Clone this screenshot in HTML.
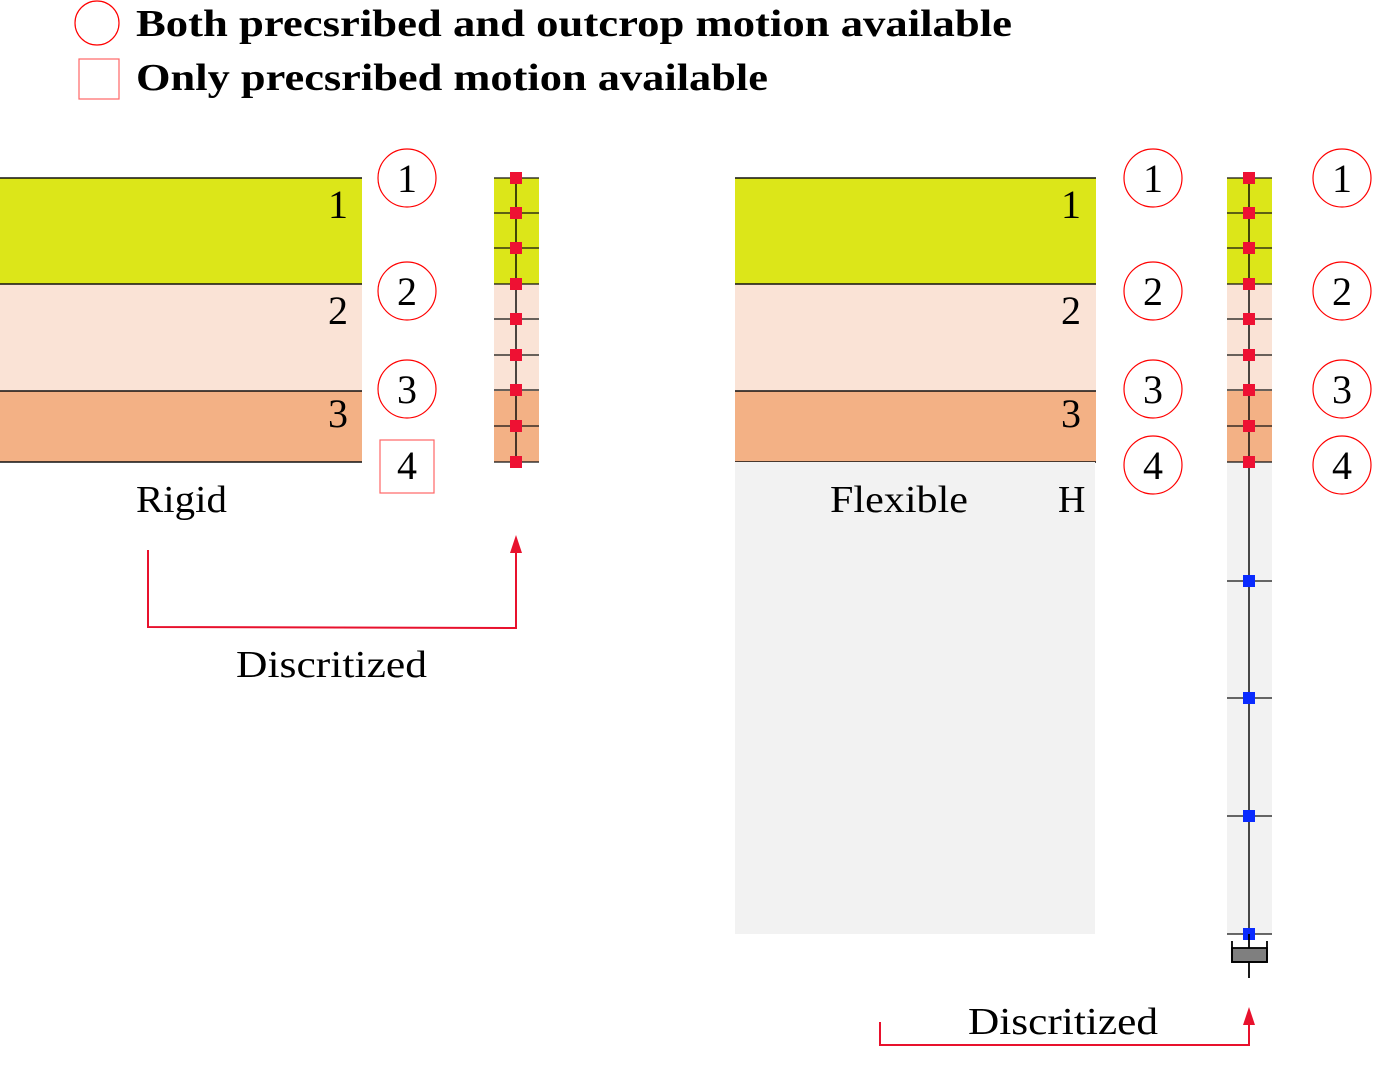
<!DOCTYPE html>
<html><head><meta charset="utf-8"><style>
html,body{margin:0;padding:0;background:#fff;}
svg{display:block;font-family:"Liberation Serif",serif;}
</style></head><body>
<svg id="fig" width="1373" height="1069" viewBox="0 0 1373 1069" xmlns="http://www.w3.org/2000/svg">
<g>
<circle cx="97" cy="23" r="22" fill="none" stroke="#f00" stroke-width="1.2"/>
<text x="136" y="36" font-size="38" font-weight="bold" textLength="876" lengthAdjust="spacingAndGlyphs">Both precsribed and outcrop motion available</text>
<rect x="79" y="59" width="40" height="40" fill="none" stroke="#f66" stroke-width="1.2"/>
<text x="136" y="90" font-size="38" font-weight="bold" textLength="632" lengthAdjust="spacingAndGlyphs">Only precsribed motion available</text>
</g>
<g id="left"></g>
<g id="right"></g>
<g id="lcol"></g>
<g id="rcol"></g>
<g>
<text x="136" y="512" font-size="38" textLength="91" lengthAdjust="spacingAndGlyphs">Rigid</text>
<text x="236" y="677" font-size="38" textLength="191" lengthAdjust="spacingAndGlyphs">Discritized</text>
<polyline points="148,550 148,627 516,628 516,550" fill="none" stroke="#e8112d" stroke-width="2"/>
<polygon points="510,553 522,553 516,535" fill="#e8112d"/>
</g>
<g>
<rect x="735" y="462" width="360" height="472" fill="#f2f2f2"/>
<text x="830" y="512" font-size="38" textLength="138" lengthAdjust="spacingAndGlyphs">Flexible</text>
<text x="1058" y="512" font-size="38">H</text>
<text x="968" y="1034" font-size="38" textLength="190" lengthAdjust="spacingAndGlyphs">Discritized</text>
<polyline points="880,1022 880,1045 1249,1045 1249,1022" fill="none" stroke="#e8112d" stroke-width="2"/>
<polygon points="1243,1025 1255,1025 1249,1007" fill="#e8112d"/>
</g>
</svg>
<script>
const layerTops=[178,284,391];
const layerBots=[284,391,462];
const layerColors=['#dce619','#fae3d6','#f3b185'];
const layerLabels=['1','2','3'];
const redNodes=[178,213,248,284,319,355,390,426,462];
const blueNodes=[581,698,816,934];
const NS='http://www.w3.org/2000/svg';
function mk(p,t,a){const e=document.createElementNS(NS,t);for(const k in a)e.setAttribute(k,a[k]);p.appendChild(e);return e;}
function layers(g,x0,x1,tx){
  layerTops.forEach((t,i)=>{
    const r=mk(g,'rect',{x:x0,y:t,width:x1-x0,height:layerBots[i]-t,fill:layerColors[i]});
    
    
    const l=mk(g,'line',{x1:x0,x2:x1,y1:t,y2:t,stroke:'#111','stroke-width':1.4});
    
    
    const tt=mk(g,'text',{x:tx,y:(i==2?t+36:t+40),'font-size':40});
    tt.textContent=layerLabels[i];
    
    
  });
  const l=mk(g,'line',{x1:x0,x2:x1,y1:462,y2:462,stroke:'#111','stroke-width':1.4});
  
  
}
const circY=[178,291,389,465];
function marks(g,cx,n,squareLast){
  circY.slice(0,n).forEach((cy,i)=>{
    if(squareLast&&i==3){
      const s=mk(g,'rect',{x:cx-27,y:440,width:54,height:53,fill:'none',stroke:'#f66','stroke-width':1.2});
      
      
    } else {
      const c=mk(g,'circle',{cx:cx,cy:cy,r:29,fill:'none',stroke:'#f00','stroke-width':1.2});
      
      
    }
    const t=mk(g,'text',{x:cx,y:cy+14,'font-size':40,'text-anchor':'middle'});
    t.textContent=String(i+1);
    
    
  });
}
function column(g,cx,flex){
  const x0=cx-22,w=45;
  layerTops.forEach((t,i)=>{
    const r=mk(g,'rect',{x:x0,y:t,width:w,height:layerBots[i]-t,fill:layerColors[i]});
    
    
  });
  if(flex){
    const r=mk(g,'rect',{x:x0,y:462,width:w,height:472,fill:'#f2f2f2'});
    
    
  }
  const yEnd=flex?934:462;
  const ln=mk(g,'line',{x1:cx,x2:cx,y1:178,y2:yEnd,stroke:'#000','stroke-width':1.4});
  
  
  const all=flex?redNodes.concat(blueNodes):redNodes;
  all.forEach((y,i)=>{
    const tk=mk(g,'line',{x1:x0,x2:x0+w,y1:y,y2:y,stroke:'#111','stroke-width':1.3});
    
    
    const blue=i>=redNodes.length;
    const n=mk(g,'rect',{x:cx-6,y:y-6,width:12,height:12,fill:blue?'#0a2bff':'#ee1133'});
    
    
  });
  if(flex){
    const d=mk(g,'g',{});
    
    
    mk(d,'rect',{x:1232,y:948,width:35,height:14,fill:'#7f7f7f',stroke:'#000','stroke-width':1.8});
    mk(d,'polyline',{points:'1232,941 1232,962 1267,962 1267,941',fill:'none',stroke:'#000','stroke-width':1.8});
    mk(d,'line',{x1:1249,x2:1249,y1:934,y2:948,stroke:'#000','stroke-width':1.8});
    mk(d,'line',{x1:1249,x2:1249,y1:962,y2:978,stroke:'#000','stroke-width':1.8});
  }
}
layers(document.getElementById('left'),0,362,328);
layers(document.getElementById('right'),735,1096,1061);
marks(document.getElementById('left'),407,4,true);
marks(document.getElementById('right'),1153,4,false);
marks(document.getElementById('right'),1342,4,false);
column(document.getElementById('lcol'),516,false);
column(document.getElementById('rcol'),1249,true);
</script>
</body></html>
